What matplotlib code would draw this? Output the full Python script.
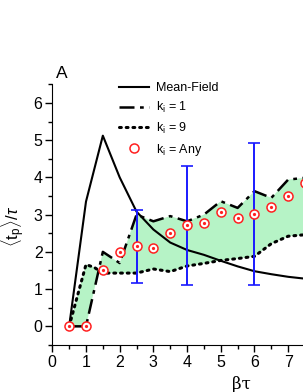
import numpy as np
import matplotlib
matplotlib.use("Agg")
import matplotlib.pyplot as plt
from matplotlib.ticker import MultipleLocator

plt.rcParams['font.family'] = ['Liberation Sans', 'DejaVu Sans']
plt.rcParams['mathtext.fontset'] = 'custom'
plt.rcParams['mathtext.rm'] = 'Liberation Sans'
plt.rcParams['mathtext.it'] = 'Liberation Sans:italic'

# data
bt = [0.5, 1.0, 1.5, 2.0, 2.5, 3.0, 3.5, 4.0, 4.5, 5.0, 5.5, 6.0, 6.5, 7.0, 7.5]
mean_field = [0, 3.35, 5.12, 4.0, 3.08, 2.6, 2.25, 2.05, 1.92, 1.76, 1.61, 1.48, 1.4, 1.33, 1.28]
k1 = [0, 0, 2.0, 1.7, 3.0, 2.82, 2.96, 2.82, 3.0, 3.36, 3.18, 3.63, 3.45, 3.94, 3.99]
k9_x = [0.5, 1.0, 1.25, 1.5, 2.0, 2.5, 3.0, 3.5, 4.0, 4.5, 5.0, 5.5, 6.0, 6.5, 7.0, 7.5]
k9 = [0, 1.66, 1.58, 1.43, 1.43, 1.43, 1.54, 1.47, 1.62, 1.69, 1.77, 1.82, 1.88, 2.22, 2.42, 2.46]
k_any = [0, 0, 1.5, 1.99, 2.15, 2.11, 2.51, 2.71, 2.78, 3.07, 2.91, 3.03, 3.2, 3.51, 3.86]
err_x = [2.5, 4.0, 6.0]
err_lo = [1.16, 1.12, 1.12]
err_hi = [3.13, 4.3, 4.93]

fig = plt.figure(figsize=(3.03, 3.92), dpi=100)
ax = fig.add_axes([0.1726, 0.12, 0.8274, 0.665])

# shaded band between k_i = 1 and k_i = 9
poly_x = np.concatenate([bt, k9_x[::-1]])
poly_y = np.concatenate([k1, k9[::-1]])
ax.fill(poly_x, poly_y, color='#b6f3c6', lw=0, zorder=1)

ax.plot(bt, mean_field, color='black', lw=1.5, label='Mean-Field', zorder=3)
ax.plot(bt, k1, color='black', lw=1.8, ls=(0, (6, 2.2, 1.5, 2.2)),
        label=r'k$_{\rm i}$ = 1', zorder=3)
ax.plot(k9_x, k9, color='black', lw=2.2, ls=(0, (0.6, 1.6)),
        dash_capstyle='round', label=r'k$_{\rm i}$ = 9', zorder=3)

lo = np.array(err_lo)
hi = np.array(err_hi)
mid = (lo + hi) / 2
ax.errorbar(err_x, mid, yerr=(hi - lo) / 2, fmt='none', ecolor='#1a1aff',
            elinewidth=1.4, capsize=4, capthick=1.2, zorder=4)

ax.plot(bt, k_any, ls='none', marker='o', ms=6.5, mfc='white', mec='#ff2020',
        mew=1.1, label=r'k$_{\rm i}$ = Any', zorder=5)
ax.plot(bt, k_any, ls='none', marker='o', ms=1.3, mfc='#ff2020', mec='#ff2020', zorder=6)

ax.set_xlim(0, 7.44)
ax.set_ylim(-0.5, 6.5)
ax.xaxis.set_major_locator(MultipleLocator(1))
ax.xaxis.set_minor_locator(MultipleLocator(0.5))
ax.yaxis.set_major_locator(MultipleLocator(1))
ax.yaxis.set_minor_locator(MultipleLocator(0.5))
ax.tick_params(which='both', direction='out', width=1, labelsize=11.5, pad=2)
ax.tick_params(which='major', length=5)
ax.tick_params(which='minor', length=3)
ax.spines['top'].set_visible(False)
ax.spines['right'].set_visible(False)

ax.set_ylabel(r'$\langle {\rm t_p} \rangle / \tau$', fontsize=12)
ax.yaxis.set_label_coords(-0.1, 0.455)
ax.set_xlabel('βτ', fontsize=12, family=['DejaVu Serif'])
ax.xaxis.set_label_coords(0.753, -0.12)

ax.text(0.015, 1.025, 'A', transform=ax.transAxes, fontsize=12.5)

ax.legend(loc='upper left', bbox_to_anchor=(0.222, 1.05), frameon=False,
          fontsize=9, handlelength=2.4, handletextpad=0.55, labelspacing=0.45)

fig.savefig('out.png', dpi=100)
